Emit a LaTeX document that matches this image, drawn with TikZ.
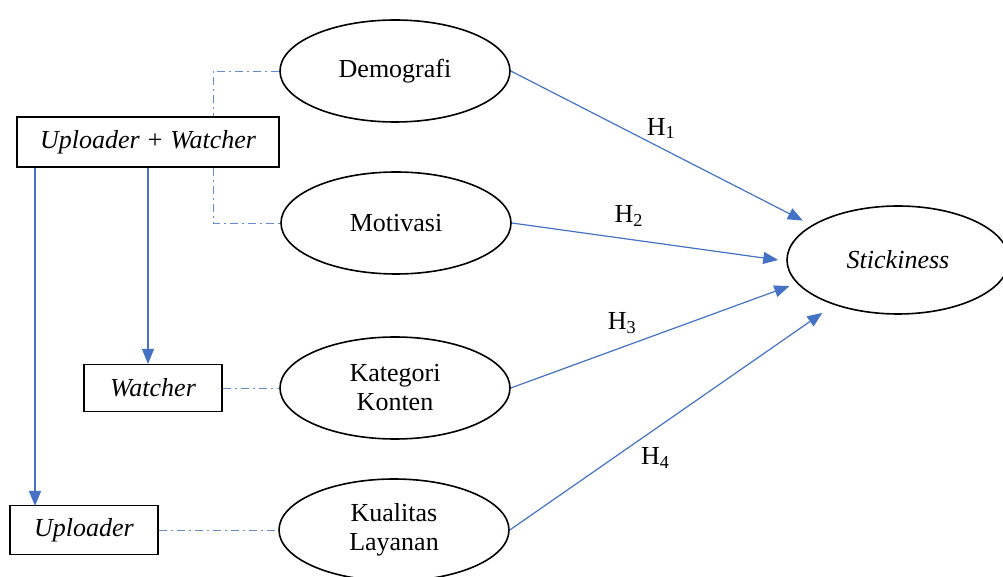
\documentclass[tikz,border=0pt]{standalone}
\usepackage{fontspec}
\setmainfont{Liberation Serif}
\usepackage{xcolor}
\usetikzlibrary{arrows.meta}
\usetikzlibrary{shapes.geometric}
\usetikzlibrary{positioning}
\definecolor{lineblue}{RGB}{68,114,196}
\definecolor{tieblue}{RGB}{100,140,210}
\tikzset{>={Triangle[length=7.5pt,width=6pt]}}
\tikzset{
  varbox/.style = {draw, thick, rectangle, inner sep=0pt, font=\fontsize{13}{15}\selectfont\itshape},
  varell/.style = {draw, thick, ellipse, inner sep=0pt, minimum width=115pt, minimum height=51pt, align=center, font=\fontsize{13}{14.5}\selectfont},
  link/.style = {->, lineblue, semithick},
  tie/.style = {tieblue, thin, dash pattern=on 4pt off 2pt on 1pt off 2pt},
  hyp/.style = {black, font=\fontsize{13}{15}\selectfont}
}

\begin{document}
\begin{tikzpicture}[x=0.5pt, y=-0.5pt]
                \useasboundingbox (0,0) rectangle (1003,577);
                % variables
                \node[varell] (dem) at (395,71) {Demografi};
                \node[varell] (mot) at (396,223) {Motivasi};
                \node[varell] (kat) at (395,388) {Kategori\\Konten};
                \node[varell] (kua) at (394,530) {Kualitas\\Layanan};
                \node[varell, minimum width=111pt, minimum height=54pt, font=\fontsize{13}{15}\selectfont\itshape] (stick) at (898,260) {Stickiness};
                % respondents
                \node[varbox, minimum width=131pt, minimum height=25pt] (uw) at (148,142) {Uploader + Watcher};
                \node[varbox, minimum width=69pt, minimum height=23.5pt] (wat) at (153,388) {Watcher};
                \node[varbox, minimum width=74pt, minimum height=24.5pt] (upl) at (84,530) {Uploader};
                \coordinate (uwl) at (35,168);
                \coordinate (upt) at (35,506);
                \coordinate (uwm) at (148,168);
                \coordinate (wtt) at (148,364);
                \path[link]
                (uwl) edge (upt)
                (uwm) edge (wtt);
                \draw[tie] (dem.west) -| (uw.north -| 213,0);
                \draw[tie] (uw.south -| 213,0) |- (mot.west);
                \draw[tie] (wat.east) -- (kat.west);
                \draw[tie] (upl.east) -- (kua.west);
                % hypotheses
                \path[link]
                (dem.east) edge[shorten >=5pt] node[hyp, pos=0.5, above=1pt] {H\textsubscript{1}} (stick.158)
                (mot.east) edge node[hyp, pos=0.44, above=3pt] {H\textsubscript{2}} ([xshift=-4pt]stick.west)
                (kat.east) edge[shorten >=4pt] node[hyp, pos=0.39, above=3pt] {H\textsubscript{3}} (stick.193)
                (kua.east) edge[shorten >=7pt] node[hyp, pos=0.45, below=6pt] {H\textsubscript{4}} (stick.215);
            \end{tikzpicture}
\end{document}
